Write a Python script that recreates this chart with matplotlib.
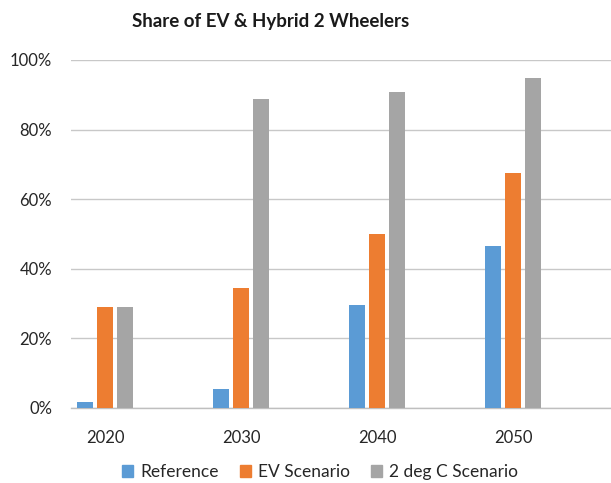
import matplotlib
matplotlib.use('Agg')
import matplotlib.pyplot as plt
from matplotlib.ticker import FuncFormatter
from matplotlib.patches import Patch
import numpy as np

years = ['2020', '2030', '2040', '2050']
series_names = ['Reference', 'EV Scenario', '2 deg C Scenario']
reference = [1.6, 5.5, 29.7, 46.5]
ev_scenario = [29.0, 34.5, 50.0, 67.4]
two_deg = [29.0, 88.9, 90.8, 94.8]
colors = ['#5B9BD5', '#ED7D31', '#A5A5A5']

plt.rcParams['font.family'] = ['Lato', 'DejaVu Sans']

fig = plt.figure(figsize=(6.11, 4.83), dpi=100)
ax = fig.add_axes([71 / 611, 1 - 408 / 483, 1 - 71 / 611, 348 / 483])

x = np.arange(len(years))
step = 0.147
width = 0.118
for i, (vals, c) in enumerate(zip([reference, ev_scenario, two_deg], colors)):
    ax.bar(x + (i - 1) * step, np.array(vals) / 100, width=width, color=c, zorder=3)

ax.set_xlim(-0.25, 3.72)
ax.set_ylim(0, 1)
ax.set_yticks(np.arange(0, 1.01, 0.2))
ax.yaxis.set_major_formatter(FuncFormatter(lambda v, p: '{:.0f}%'.format(v * 100)))
ax.set_xticks(x)
ax.set_xticklabels(years)
ax.grid(axis='y', color='#c8c8c8', linewidth=1.0, zorder=0)
for s in ['top', 'right', 'left']:
    ax.spines[s].set_visible(False)
ax.spines['bottom'].set_color('#bfbfbf')
ax.spines['bottom'].set_linewidth(1.0)
ax.tick_params(axis='both', length=0, labelsize=12, colors='#262626')
ax.tick_params(axis='x', pad=16)
ax.tick_params(axis='y', pad=13.5)

fig.text(271 / 611, 1 - 21 / 483, 'Share of EV & Hybrid 2 Wheelers', ha='center', va='center',
         fontsize=13.5, fontweight='bold', color='#1a1a1a')

handles = [Patch(color=c, label=n) for c, n in zip(colors, series_names)]
fig.legend(handles=handles, loc='center', bbox_to_anchor=(320 / 611, 1 - 472 / 483), ncol=3,
           frameon=False, fontsize=12.5, handlelength=0.65, handleheight=0.65, handletextpad=0.4,
           columnspacing=1.2, labelcolor='#262626', borderpad=0.1)

fig.savefig('out.png', dpi=100)
